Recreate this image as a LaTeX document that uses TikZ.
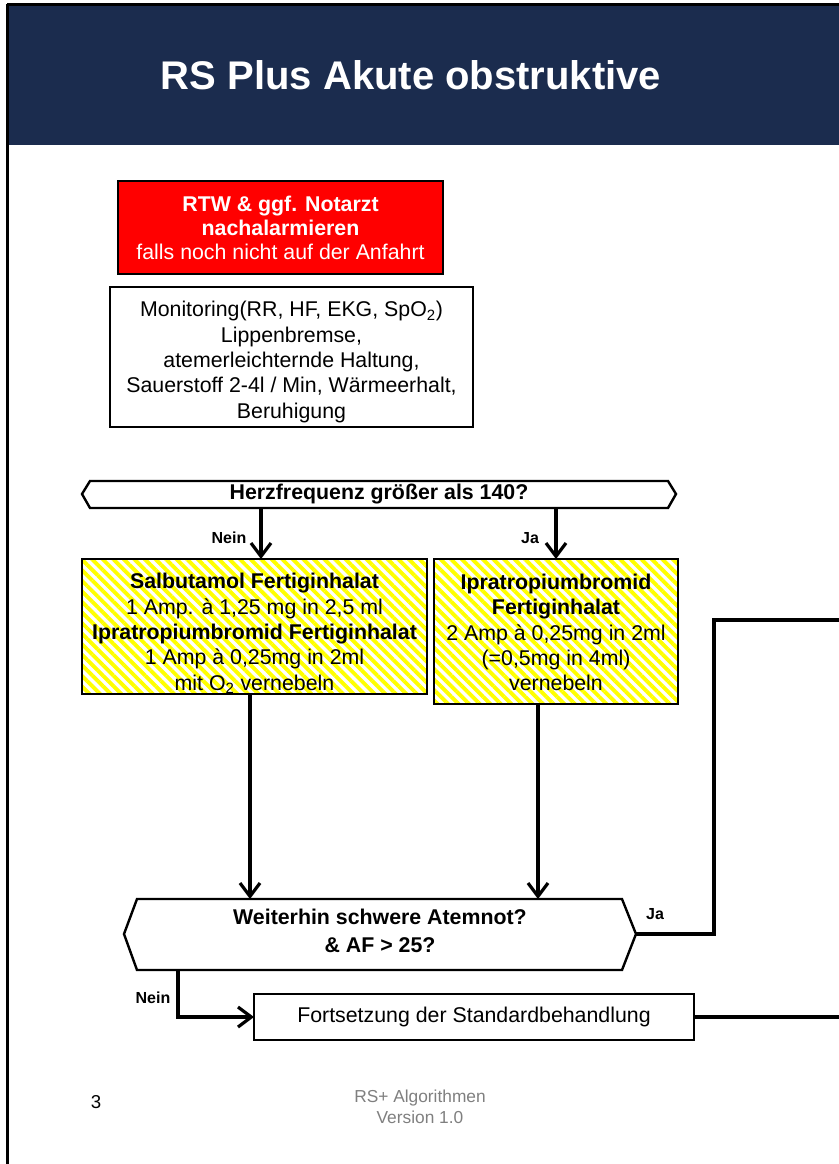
\documentclass[tikz,border=0pt]{standalone}
\usepackage{fontspec}
\setmainfont{Liberation Sans}
\usetikzlibrary{arrows.meta,patterns.meta,calc}
\definecolor{navy}{HTML}{1B2C4E}
\definecolor{footgray}{HTML}{7F7F7F}
\begin{document}
\begin{tikzpicture}[x=0.75pt,y=-0.75pt,
  txt/.style={font=\fontsize{16}{19}\selectfont, align=center},
  box/.style={draw=black, line width=1.7pt, inner sep=0pt, outer sep=0pt, anchor=north west, txt},
  striped/.style={box, preaction={fill=white}, pattern={Lines[angle=-45,distance=5.6pt,line width=2.9pt]}, pattern color=yellow},
  conn/.style={line width=2.6pt},
  arr/.style={conn, -{Straight Barb[length=10pt,width=15pt,line width=2.4pt]}},
  lbl/.style={font=\bfseries\fontsize{12}{14}\selectfont},
  hex/.style={draw=black, line width=1.8pt}
]
\useasboundingbox (0,0) rectangle (839,1164);
% frame and banner
\fill[navy] (8,5) rectangle (839,145);
\draw[line width=1.8pt] (7,4.5) -- (839,4.5);
\draw[line width=2pt] (7.5,4) -- (7.5,1164);
\node[text=white, font=\bfseries\fontsize{30}{36}\selectfont] (title) at (411,75) {RS Plus Akute obstruktive};

% top boxes
\node[box, fill=red, text=white, minimum width=243.75pt, minimum height=69.75pt, font=\fontsize{16}{18}\selectfont] (rtw) at (118,181)
  {\textbf{RTW \& ggf. Notarzt}\\\textbf{nachalarmieren}\\falls noch nicht auf der Anfahrt};
\node[box, fill=white, minimum width=272.25pt, minimum height=105pt] (mon) at (110,287) {};
\node[txt] (mon-t) at ($(mon.center)+(0,5)$)
  {Monitoring(RR, HF, EKG, SpO\textsubscript{2})\\Lippenbremse,\\atemerleichternde Haltung,\\Sauerstoff 2-4l / Min, Wärmeerhalt,\\Beruhigung};

% decision 1
\draw[hex] (82,494) -- (90,481) -- (668,481) -- (676,494) -- (668,508) -- (90,508) -- cycle;
\node[font=\bfseries\fontsize{16}{19}\selectfont] (hf) at (379,494) {Herzfrequenz größer als 140?};
\coordinate (hf-nein) at (261,508);
\coordinate (hf-ja) at (556,508);

% treatment boxes
\node[striped, minimum width=258.75pt, minimum height=101.25pt] (sal) at (82,559) {};
\node[txt] (sal-t) at ($(sal.center)+(0,7)$)
  {\textbf{Salbutamol Fertiginhalat}\\1 Amp. à 1,25 mg in 2,5 ml\\\textbf{Ipratropiumbromid Fertiginhalat}\\1 Amp à 0,25mg in 2ml\\mit O\textsubscript{2} vernebeln};
\node[striped, minimum width=183pt, minimum height=108.75pt] (ipr) at (434,559) {};
\node[txt] (ipr-t) at ($(ipr.center)+(0,1)$)
  {\textbf{Ipratropiumbromid}\\\textbf{Fertiginhalat}\\2 Amp à 0,25mg in 2ml\\(=0,5mg in 4ml)\\vernebeln};

\draw[arr] (hf-nein) -- (hf-nein |- sal.north);
\draw[arr] (hf-ja) -- (hf-ja |- ipr.north);
\node[lbl] (l-nein1) at (229,538) {Nein};
\node[lbl] (l-ja1) at (530,538) {Ja};

% decision 2
\draw[hex] (124,934) -- (137,899) -- (622,899) -- (636,934) -- (622,970) -- (137,970) -- cycle;
\node[font=\bfseries\fontsize{16}{21}\selectfont, align=center] (wa) at (380,931) {Weiterhin schwere Atemnot?\\\& AF > 25?};
\coordinate (wa-in1) at (250,899);
\coordinate (wa-in2) at (538,899);
\coordinate (wa-east) at (636,934);
\coordinate (wa-nein) at (178,970);

\draw[arr] (sal.south -| wa-in1) -- (wa-in1);
\draw[arr] (ipr.south -| wa-in2) -- (wa-in2);

% Ja branch
\coordinate (ja-up) at (714,620);
\coordinate (ja-out) at (839,620);
\draw[conn] (wa-east) -- (wa-east -| ja-up) -- (ja-up) -- (ja-out);
\node[lbl] (l-ja2) at (655,914) {Ja};

% Nein branch
\node[box, fill=white, minimum width=330pt, minimum height=34.5pt] (fort) at (254,994) {Fortsetzung der Standardbehandlung};
\draw[arr] (wa-nein) -- (wa-nein |- fort.west) -- (fort.west);
\node[lbl] (l-nein2) at (153,998) {Nein};
\coordinate (fort-out) at (839,1017);
\draw[conn] (fort.east) -- (fort-out);

% footer
\node[font=\fontsize{14}{16}\selectfont] (page) at (96,1102) {3};
\node[text=footgray, font=\fontsize{13}{16}\selectfont, align=center] (foot) at (420,1107) {RS+ Algorithmen\\Version 1.0};
\end{tikzpicture}
\end{document}
